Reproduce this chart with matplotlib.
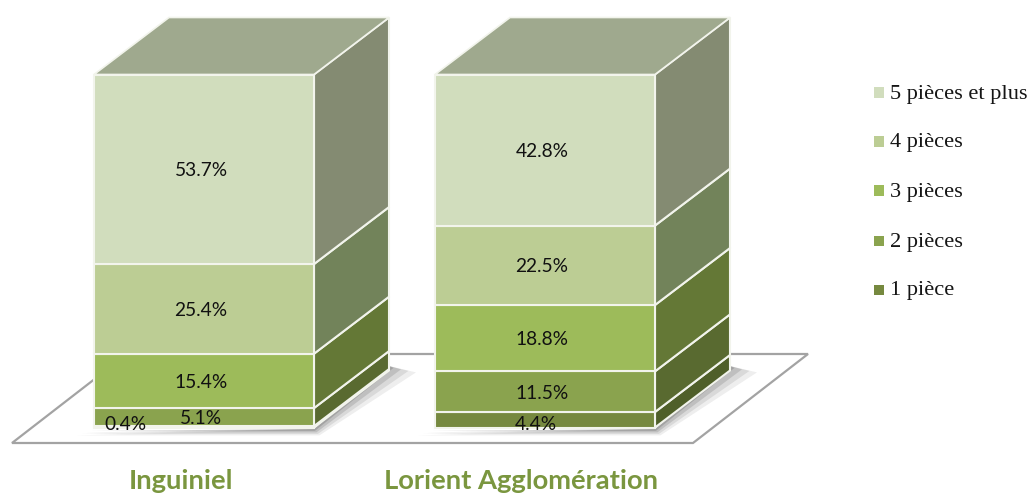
import matplotlib
matplotlib.use('Agg')
import matplotlib.pyplot as plt
from matplotlib.patches import Polygon, Rectangle

# Values from the picture
categories = ['Inguiniel', 'Lorient Agglomération']
pieces = ['1 pièce', '2 pièces', '3 pièces', '4 pièces', '5 pièces et plus']
inguiniel = [0.4, 5.1, 15.4, 25.4, 53.7]
lorient = [4.4, 11.5, 18.8, 22.5, 42.8]

front_colors = ['#76893f', '#8aa34e', '#9dbb5a', '#bccd94', '#d1ddbd']
side_colors = ['#4f5f29', '#596a30', '#647836', '#72835a', '#848b72']
top_color = '#9fa98e'
edge_color = '#f2f4ec'
label_green = '#7a963f'

# Layout in pixels, the y axis runs in percent
W, H = 1029, 493
PX_PER_PCT = 3.53
BASE_PX = 427.5
bar_left = [94, 435]
bar_width = 220
depth_x = 75
depth_y = 57 / PX_PER_PCT


def py(pixel_y):
    # pixel row to percent
    return (BASE_PX - pixel_y) / PX_PER_PCT


def draw_shadow(ax, left):
    right = left + bar_width
    for grow, alpha in [(18, 0.10), (13, 0.14), (8, 0.20), (3, 0.28)]:
        drop = 1 + grow * 0.3
        ax.add_patch(Polygon([(left - grow, py(429 + drop)), (right + grow * 0.3, py(429 + drop)),
                              (right + depth_x + grow * 1.5, py(366 + drop)),
                              (right + depth_x, py(366)), (right, py(429))],
                             closed=True, fc='#5a5a5a', ec='none', alpha=alpha, zorder=2))


def draw_bar(ax, left, values):
    right = left + bar_width
    bottom = 0
    for value, front, side in zip(values, front_colors, side_colors):
        top = bottom + value
        ax.add_patch(Polygon([(right, bottom), (right + depth_x, bottom + depth_y),
                              (right + depth_x, top + depth_y), (right, top)],
                             closed=True, fc=side, ec=edge_color, lw=1.5, zorder=3))
        ax.add_patch(Rectangle((left, bottom), bar_width, value,
                               fc=front, ec=edge_color, lw=1.5, zorder=4))
        bottom = top
    ax.add_patch(Polygon([(left, bottom), (right, bottom), (right + depth_x, bottom + depth_y),
                          (left + depth_x, bottom + depth_y)],
                         closed=True, fc=top_color, ec=edge_color, lw=1.2, zorder=3))


fig = plt.figure(figsize=(W / 100, H / 100), dpi=100)
ax = fig.add_axes([0, 0, 1, 1])
ax.set_xlim(0, W)
ax.set_ylim(py(H), py(0))
ax.axis('off')

# Floor
ax.add_patch(Polygon([(12, py(443)), (693, py(443)), (808, py(354)), (127, py(354))],
                     closed=True, fc='white', ec='#a3a3a3', lw=1.6, zorder=1))

for left, values in zip(bar_left, [inguiniel, lorient]):
    draw_shadow(ax, left)
    draw_bar(ax, left, values)

# Segment labels
for left, values in zip(bar_left, [inguiniel, lorient]):
    bottom = 0
    for i, value in enumerate(values):
        x = left + bar_width / 2 - 3
        y = bottom + value / 2 - 0.4
        if value == 0.4:
            x, y = 125, py(424)
        elif value == 4.4:
            x, y = x - 6, py(425)
        ax.text(x, y, f'{value}%', ha='center', va='center', fontsize=13.8,
                family='Lato', color='#111111', zorder=6)
        bottom += value

# Category labels
for x, name in zip([181, 521], categories):
    ax.text(x, py(481), name, ha='center', va='center', fontsize=19.7,
            family='Lato', weight='bold', color=label_green, zorder=6)

# Legend
legend_y = [289, 240, 190, 141, 92]
for name, color, y in zip(pieces, front_colors, legend_y):
    ax.add_patch(Rectangle((874, py(y + 5.5)), 10, 10 / PX_PER_PCT, fc=color, ec='none', zorder=6))
    ax.text(890, py(y + 2), name, ha='left', va='center', fontsize=16.1,
            family='Liberation Serif', color='#151515', zorder=6)

fig.savefig('out.png', dpi=100)
